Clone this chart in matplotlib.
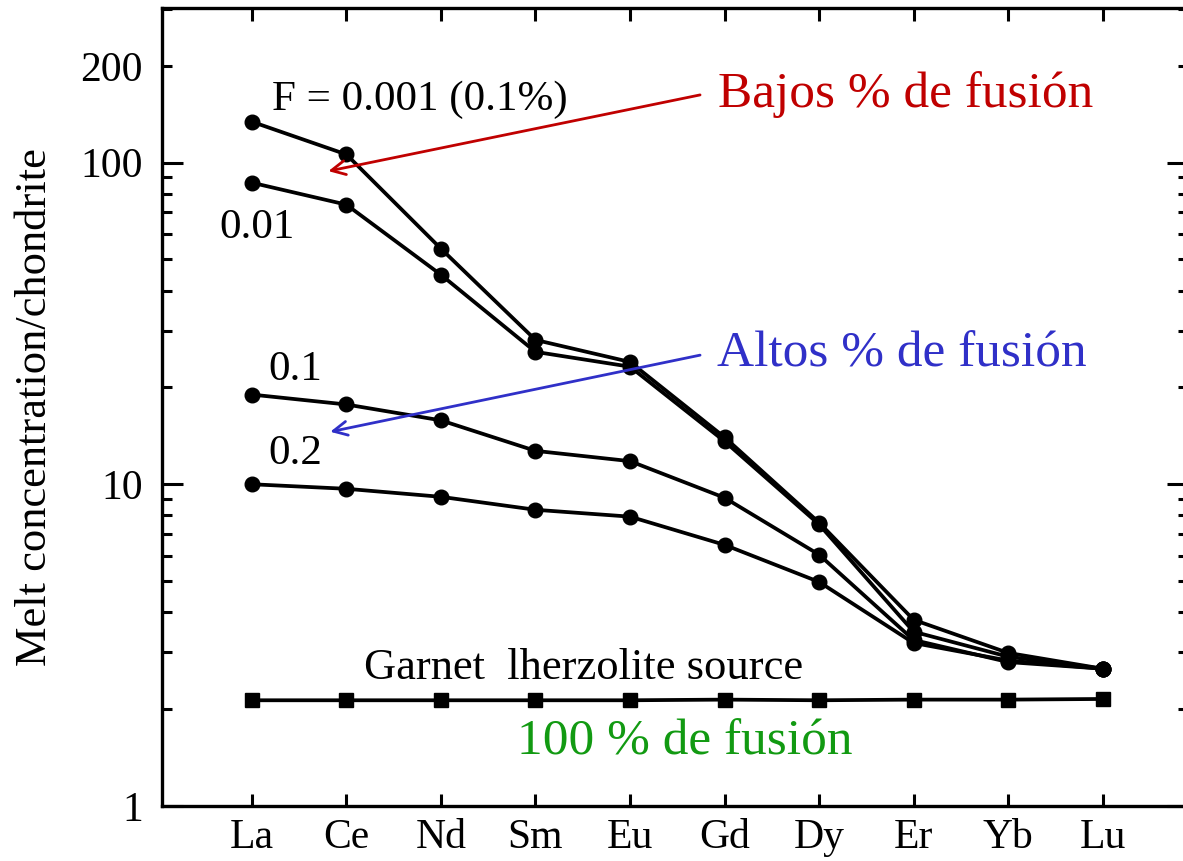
import matplotlib
matplotlib.use("Agg")
import matplotlib.pyplot as plt
import numpy as np

plt.rcParams['font.family'] = ['Liberation Serif', 'DejaVu Serif']

elements = ["La", "Ce", "Nd", "Sm", "Eu", "Gd", "Dy", "Er", "Yb", "Lu"]
f0001 = [134, 106, 54, 28.1, 24.0, 14.0, 7.6, 3.79, 2.99, 2.67]
f001 = [86.6, 74, 44.8, 25.8, 23.2, 13.6, 7.5, 3.48, 2.91, 2.67]
f01 = [19.0, 17.7, 15.8, 12.7, 11.8, 9.08, 6.04, 3.28, 2.80, 2.67]
f02 = [10.0, 9.68, 9.14, 8.33, 7.93, 6.48, 4.97, 3.21, 2.83, 2.67]
source = [2.13, 2.13, 2.13, 2.13, 2.13, 2.14, 2.13, 2.14, 2.14, 2.15]

x = np.arange(len(elements))

fig = plt.figure(figsize=(11.83, 8.61), dpi=100)
ax = fig.add_axes([0.137, 0.064, 0.867, 0.927])

for serie in [f0001, f001, f01, f02]:
    ax.plot(x, serie, color='black', lw=2.7, marker='o', ms=10.5)
ax.plot(x, source, color='black', lw=2.7, marker='s', ms=10)

ax.set_yscale('log')
ax.set_xlim(-0.95, 9.9)
ax.set_ylim(1, 303)

ax.set_xticks(x, elements)
ax.set_yticks([1, 10, 100], ["1", "10", "100"])
minors = [m * 10 ** d for d in range(3) for m in range(2, 10) if m * 10 ** d < 303]
ax.set_yticks(minors, ["200" if v == 200 else "" for v in minors], minor=True)

ax.tick_params(axis='x', direction='in', top=True, length=9, width=2.2, labelsize=30, pad=9)
ax.tick_params(axis='y', which='major', direction='in', right=True, length=15, width=2.2, labelsize=30, pad=14)
ax.tick_params(axis='y', which='minor', direction='in', right=True, length=7, width=2.2, labelsize=30, pad=14)
for s in ax.spines.values():
    s.set_linewidth(2.4)

ax.set_ylabel("Melt concentration/chondrite", fontsize=32)
ax.yaxis.set_label_coords(-0.104, 0.5)

ax.text(0.21, 157, "F = 0.001 (0.1%)", fontsize=31, va='center')
ax.text(-0.34, 62.8, "0.01", fontsize=31, va='center')
ax.text(0.17, 22.7, "0.1", fontsize=31, va='center')
ax.text(0.17, 12.4, "0.2", fontsize=31, va='center')
ax.text(1.19, 2.69, "Garnet  lherzolite source", fontsize=32, va='center')

ax.text(4.93, 163, "Bajos % de fusión", fontsize=37, color='#C00000', va='center')
ax.text(4.92, 25.3, "Altos % de fusión", fontsize=37, color='#3030C8', va='center')
ax.text(2.80, 1.58, "100 % de fusión", fontsize=37, color='#129A12', va='center')

ax.annotate("", xy=(0.78, 93.7), xytext=(4.77, 163),
            arrowprops=dict(arrowstyle='->', color='#C00000', lw=2, mutation_scale=25))
ax.annotate("", xy=(0.80, 14.5), xytext=(4.77, 25.3),
            arrowprops=dict(arrowstyle='->', color='#3030C8', lw=2, mutation_scale=25))

fig.savefig("out.png", dpi=100)
